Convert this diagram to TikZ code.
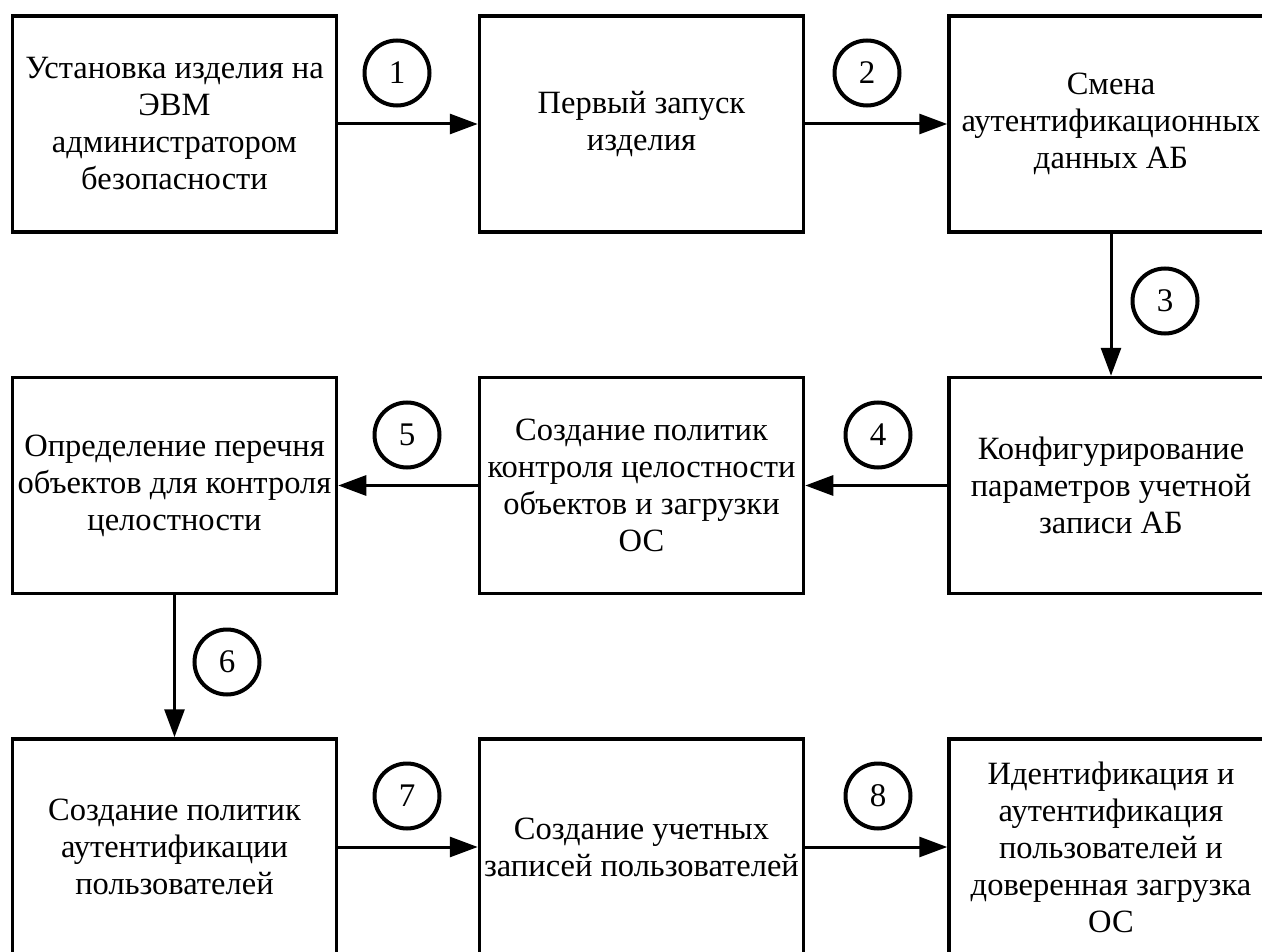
\documentclass[tikz,border=0pt]{standalone}
\usepackage{fontspec}
\setmainfont{Liberation Serif}
\usetikzlibrary{arrows.meta}
\tikzset{
  box/.style={draw, line width=3.5pt, minimum width=324pt, minimum height=216pt, inner sep=0pt, align=center, font=\fontsize{32.5}{37}\selectfont},
  num/.style={draw, circle, line width=4pt, minimum size=65pt, inner sep=0pt, font=\fontsize{33}{36}\selectfont},
  arr/.style={line width=3pt, -{Triangle[length=28pt,width=20pt]}}
}
\begin{document}
\begin{tikzpicture}[x=1pt,y=-1pt]
\useasboundingbox (0,0) rectangle (1262,952);
\clip (0,0) rectangle (1262,952);
\node[box] (b1) at (174.5,124) {Установка изделия на\\ЭВМ\\администратором\\безопасности};
\node[box] (b2) at (641.5,124) {Первый запуск\\изделия};
\node[box] (b3) at (1111,124) {Смена\\аутентификационных\\данных АБ};
\node[box] (b6) at (1111,485.5) {Конфигурирование\\параметров учетной\\записи АБ};
\node[box] (b5) at (641.5,485.5) {Создание политик\\контроля целостности\\объектов и загрузки\\ОС};
\node[box] (b4) at (174.5,485.5) {Определение перечня\\объектов для контроля\\целостности};
\node[box] (b7) at (174.5,847) {Создание политик\\аутентификации\\пользователей};
\node[box] (b8) at (641.5,847) {Создание учетных\\записей пользователей};
\node[box] (b9) at (1111,847) {Идентификация и\\аутентификация\\пользователей и\\доверенная загрузка\\ОС};
\draw[arr] (b1) -- (b2);
\draw[arr] (b2) -- (b3);
\draw[arr] (b3) -- (b6);
\draw[arr] (b6) -- (b5);
\draw[arr] (b5) -- (b4);
\draw[arr] (b4) -- (b7);
\draw[arr] (b7) -- (b8);
\draw[arr] (b8) -- (b9);
\node[num] (c1) at (397,73) {1};
\node[num] (c2) at (867,73) {2};
\node[num] (c3) at (1165,301) {3};
\node[num] (c4) at (878,435) {4};
\node[num] (c5) at (407,435) {5};
\node[num] (c6) at (227,662) {6};
\node[num] (c7) at (407,796) {7};
\node[num] (c8) at (878,796) {8};
\end{tikzpicture}
\end{document}
